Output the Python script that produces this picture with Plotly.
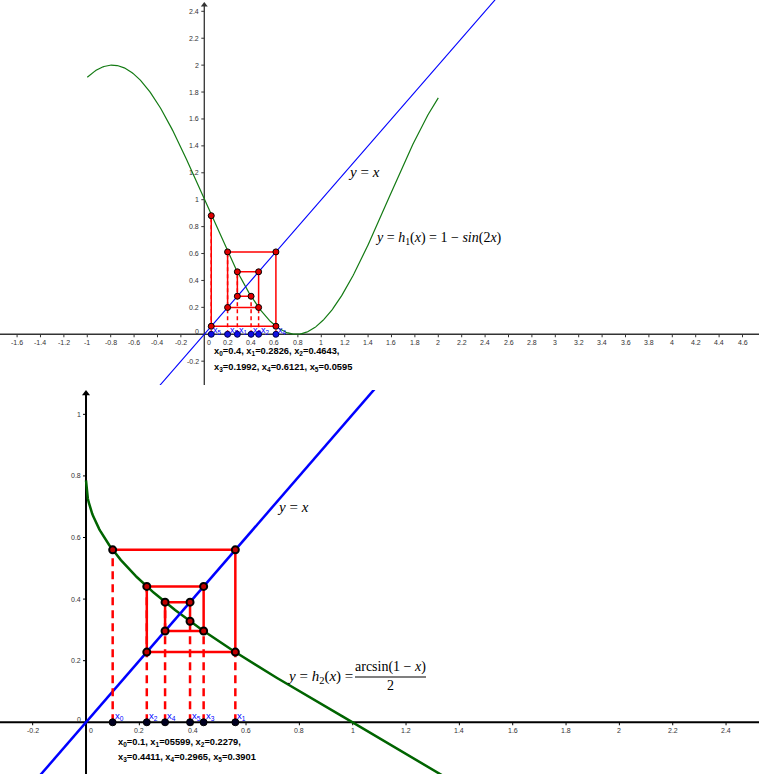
import numpy as np
import plotly.graph_objects as go

# ---- data -------------------------------------------------------------
# iterates of x_{n+1} = h(x_n) as printed under each graph
iter_h1 = [0.4, 0.2826, 0.4643, 0.1992, 0.6121, 0.0595]
iter_h2 = [0.1, 0.5599, 0.2279, 0.4411, 0.2965, 0.3901]
iter_names = ["x0", "x1", "x2", "x3", "x4", "x5"]

# axis tick values
ticks_x1 = [round(-1.6 + 0.2 * i, 1) for i in range(32)]
ticks_y1 = [round(-0.2 + 0.2 * i, 1) for i in range(14)]
ticks_x2 = [round(-0.2 + 0.2 * i, 1) for i in range(14)]
ticks_y2 = [round(0.2 * i, 1) for i in range(6)]

# visible windows of the two graphs
range_x1, range_y1 = [-1.746, 4.741], [-0.377, 2.484]
range_x2, range_y2 = [-0.3225, 2.5235], [-0.168, 1.079]


def h1(x):
    return 1 - np.sin(2 * x)


def h2(x):
    return np.arcsin(1 - x) / 2


RED, BLUE = "#ff0000", "#0000ff"
TICK_FONT = dict(family="Liberation Sans, Arial", size=7, color="#333333")
MATH_FONT = "Liberation Serif, Times New Roman, serif"
NOTE_FONT = "Liberation Sans, Arial"

fig = go.Figure()
annotations = []


def fmt(v):
    return f"{v:g}"


def add_axes(xa, ya, xr, yr, xt, yt, color, width, tick_px, xpx, ypx, ytop, head):
    # axis lines through the origin
    fig.add_trace(go.Scatter(x=[xr[0], xr[1]], y=[0, 0], mode="lines",
                             line=dict(color=color, width=width), xaxis=xa, yaxis=ya,
                             hoverinfo="skip"))
    fig.add_trace(go.Scatter(x=[0, 0], y=[yr[0], ytop], mode="lines",
                             line=dict(color=color, width=width), xaxis=xa, yaxis=ya,
                             hoverinfo="skip"))
    # arrow head on the vertical axis
    fig.add_trace(go.Scatter(x=[0], y=[ytop], mode="markers",
                             marker=dict(symbol="triangle-up", size=head, color=color),
                             xaxis=xa, yaxis=ya, hoverinfo="skip", cliponaxis=False))
    # tick marks
    tx, ty = [], []
    for t in xt:
        if t == 0:
            continue
        tx += [t, t, None]
        ty += [0, -tick_px / ypx, None]
    for t in yt:
        if t == 0:
            continue
        tx += [0, -tick_px / xpx, None]
        ty += [t, t, None]
    fig.add_trace(go.Scatter(x=tx, y=ty, mode="lines", line=dict(color=color, width=1),
                             xaxis=xa, yaxis=ya, hoverinfo="skip"))
    # tick labels
    for t in xt:
        annotations.append(dict(x=t, y=0, xref=xa, yref=ya, text=fmt(t), showarrow=False,
                                xanchor="center", yanchor="top", yshift=-3,
                                xshift=5 if t == 0 else 0, font=TICK_FONT))
    for t in yt:
        annotations.append(dict(x=0, y=t, xref=xa, yref=ya, text=fmt(t), showarrow=False,
                                xanchor="right", yanchor="middle", xshift=-3,
                                yshift=3 if t == 0 else 0, font=TICK_FONT))


def add_cobweb(xa, ya, h, it, lw, dash, mk):
    vals = list(it) + [float(h(it[-1]))]
    # dashed verticals from the x axis
    dx, dy = [], []
    for n in range(len(it)):
        dx += [vals[n], vals[n], None]
        dy += [0, vals[n + 1], None]
    fig.add_trace(go.Scatter(x=dx, y=dy, mode="lines",
                             line=dict(color=RED, width=lw, dash=dash),
                             xaxis=xa, yaxis=ya, hoverinfo="skip"))
    # staircase / cobweb path
    px, py = [vals[0]], [vals[1]]
    for n in range(1, len(it)):
        px += [vals[n], vals[n]]
        py += [vals[n], vals[n + 1]]
    fig.add_trace(go.Scatter(x=px, y=py, mode="lines+markers",
                             line=dict(color=RED, width=lw),
                             marker=mk, xaxis=xa, yaxis=ya, hoverinfo="skip"))
    return vals


# ---- graph 1 : h1(x) = 1 - sin(2x) -------------------------------------
add_axes("x", "y", range_x1, range_y1, ticks_x1, ticks_y1, "#333333", 1.3, 3,
         117.0, 134.6, 2.447, 6)

xs = np.linspace(-1, 2, 400)
fig.add_trace(go.Scatter(x=xs, y=h1(xs), mode="lines", line=dict(color="#137a13", width=1.2),
                         xaxis="x", yaxis="y", hoverinfo="skip"))
fig.add_trace(go.Scatter(x=[-1, 3], y=[-1, 3], mode="lines", line=dict(color=BLUE, width=1.1),
                         xaxis="x", yaxis="y", hoverinfo="skip"))
add_cobweb("x", "y", h1, iter_h1, 1.5, "4px,3px",
           dict(size=6, color="#e00000", line=dict(color="black", width=1)))
fig.add_trace(go.Scatter(x=iter_h1, y=[0] * len(iter_h1), mode="markers",
                         marker=dict(size=6, color="#1010e0", line=dict(color="#000050", width=1)),
                         xaxis="x", yaxis="y", hoverinfo="skip"))
for name, v in zip(iter_names, iter_h1):
    annotations.append(dict(x=v, y=0, xref="x", yref="y", showarrow=False,
                            text=f"x<sub>{name[1:]}</sub>", xanchor="left", yanchor="bottom",
                            xshift=0, yshift=-4,
                            font=dict(family="Liberation Sans, Arial", size=9, color=BLUE)))

annotations.append(dict(x=1.365, y=1.206, xref="x", yref="y", showarrow=False,
                        text="<i>y</i> = <i>x</i>", font=dict(family=MATH_FONT, size=15, color="black")))
annotations.append(dict(x=1.442, y=0.715, xref="x", yref="y", showarrow=False, xanchor="left",
                        text="<i>y</i> = <i>h</i><sub>1</sub>(<i>x</i>) = 1 − <i>sin</i>(2<i>x</i>)",
                        font=dict(family=MATH_FONT, size=14, color="black")))

note1 = ["x<sub>0</sub>=0.4, x<sub>1</sub>=0.2826, x<sub>2</sub>=0.4643,",
         "x<sub>3</sub>=0.1992, x<sub>4</sub>=0.6121, x<sub>5</sub>=0.0595"]
for txt, yy in zip(note1, [-0.131, -0.250]):
    annotations.append(dict(x=0.066, y=yy, xref="x", yref="y", showarrow=False, xanchor="left",
                            text=f"<b>{txt}</b>", font=dict(family=NOTE_FONT, size=9.3, color="black")))

# ---- graph 2 : h2(x) = arcsin(1 - x) / 2 --------------------------------
add_axes("x2", "y2", range_x2, range_y2, ticks_x2, ticks_y2, "black", 2, 3,
         266.7, 308.0, 1.068, 7)

xs2 = np.linspace(0, 2, 600)
fig.add_trace(go.Scatter(x=xs2, y=h2(xs2), mode="lines", line=dict(color="#006400", width=2.5),
                         xaxis="x2", yaxis="y2", hoverinfo="skip"))
fig.add_trace(go.Scatter(x=[-0.5, 1.5], y=[-0.5, 1.5], mode="lines",
                         line=dict(color=BLUE, width=2.5),
                         xaxis="x2", yaxis="y2", hoverinfo="skip"))
add_cobweb("x2", "y2", h2, iter_h2, 2.5, "8px,5px",
           dict(size=7, color="#c00000", line=dict(color="black", width=2)))
fig.add_trace(go.Scatter(x=iter_h2, y=[0] * len(iter_h2), mode="markers",
                         marker=dict(size=7, color="#000020", line=dict(color="black", width=1)),
                         xaxis="x2", yaxis="y2", hoverinfo="skip"))
for name, v in zip(iter_names, iter_h2):
    annotations.append(dict(x=v, y=0, xref="x2", yref="y2", showarrow=False,
                            text=f"x<sub>{name[1:]}</sub>", xanchor="left", yanchor="bottom",
                            xshift=0, yshift=-2,
                            font=dict(family="Liberation Sans, Arial", size=9.5, color=BLUE)))

annotations.append(dict(x=0.778, y=0.700, xref="x2", yref="y2", showarrow=False,
                        text="<i>y</i> = <i>x</i>", font=dict(family=MATH_FONT, size=15, color="black")))
annotations.append(dict(x=0.745, y=0.148, xref="x2", yref="y2", showarrow=False, xanchor="left",
                        text="<i>y</i> = <i>h</i><sub>2</sub>(<i>x</i>) =",
                        font=dict(family=MATH_FONT, size=15, color="black")))
annotations.append(dict(x=1.142, y=0.1795, xref="x2", yref="y2", showarrow=False,
                        text="arcsin(1 − <i>x</i>)",
                        font=dict(family=MATH_FONT, size=14, color="black")))
annotations.append(dict(x=1.142, y=0.120, xref="x2", yref="y2", showarrow=False,
                        text="2", font=dict(family=MATH_FONT, size=14, color="black")))
fig.add_shape(type="line", xref="x2", yref="y2", x0=1.0086, x1=1.275, y0=0.147, y1=0.147,
              line=dict(color="black", width=1.2))

note2 = ["x<sub>0</sub>=0.1, x<sub>1</sub>=05599, x<sub>2</sub>=0.2279,",
         "x<sub>3</sub>=0.4411, x<sub>4</sub>=0.2965, x<sub>5</sub>=0.3901"]
for txt, yy in zip(note2, [-0.065, -0.115]):
    annotations.append(dict(x=0.1125, y=yy, xref="x2", yref="y2", showarrow=False, xanchor="left",
                            text=f"<b>{txt}</b>", font=dict(family=NOTE_FONT, size=9.3, color="black")))

# ---- layout ------------------------------------------------------------
hidden = dict(visible=False, showgrid=False, zeroline=False)
fig.update_layout(
    width=759, height=774,
    margin=dict(l=0, r=0, t=0, b=0),
    paper_bgcolor="white", plot_bgcolor="white",
    showlegend=False,
    xaxis=dict(range=range_x1, domain=[0, 1], **hidden),
    yaxis=dict(range=range_y1, domain=[1 - 385 / 774, 1], **hidden),
    xaxis2=dict(range=range_x2, domain=[0, 1], anchor="y2", **hidden),
    yaxis2=dict(range=range_y2, domain=[0, 1 - 390 / 774], anchor="x2", **hidden),
    annotations=annotations,
)

fig.write_html("out.html")
